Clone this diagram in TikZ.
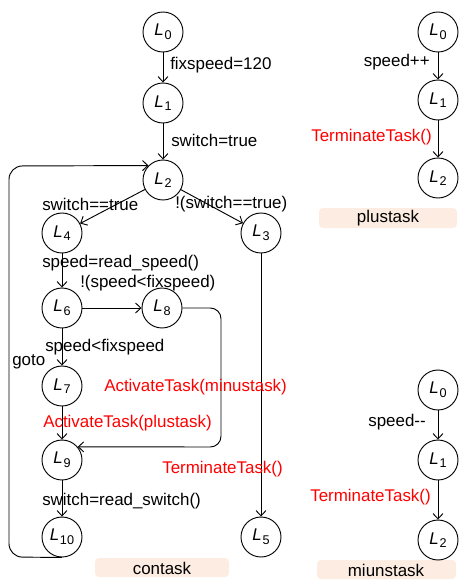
\documentclass[tikz,border=0pt]{standalone}
\usepackage{fontspec}
\setmainfont{Liberation Sans}
\usetikzlibrary{arrows.meta}
\definecolor{boxfill}{RGB}{252,236,225}
\newcommand\statelab[1]{\textit{L}\kern0.5pt\raisebox{-0.4ex}{\fontsize{9.5}{10}\selectfont #1}}
\begin{document}
\begin{tikzpicture}[x=0.75pt,y=-0.75pt,
  state/.style={circle,draw,line width=0.7pt,minimum size=30pt,inner sep=0pt,font=\fontsize{12.7}{14}\selectfont},
  lbl/.style={font=\fontsize{12.7}{14}\selectfont,inner sep=0pt},
  rlbl/.style={lbl,text=red},
  edge/.style={-{Straight Barb[length=4pt,width=7.5pt]},line width=0.7pt},
  taskbox/.style={fill=boxfill,rounded corners=3pt,draw=none}]
\useasboundingbox (0,0) rectangle (458,582);
% boxes
\fill[taskbox] (95,558) rectangle (229,577);
\fill[taskbox] (319,208) rectangle (457,228);
\fill[taskbox] (317,560) rectangle (456,579);
\node[lbl] (tc) at (162,568) {contask};
\node[lbl] (tp) at (388,218) {plustask};
\node[lbl] (tm) at (386,570) {miunstask};
% contask states
\node[state] (L0) at (163,32) {\statelab{0}};
\node[state] (L1) at (163,103) {\statelab{1}};
\node[state] (L2) at (163,180) {\statelab{2}};
\node[state] (L4) at (62,233) {\statelab{4}};
\node[state] (L3) at (261,233) {\statelab{3}};
\node[state] (L6) at (62,308) {\statelab{6}};
\node[state] (L8) at (162,308) {\statelab{8}};
\node[state] (L7) at (62,386) {\statelab{7}};
\node[state] (L9) at (62,460) {\statelab{9}};
\node[state] (L10) at (62,537) {\statelab{10}};
\node[state] (L5) at (261,537) {\statelab{5}};
% plustask
\node[state] (P0) at (438,32) {\statelab{0}};
\node[state] (P1) at (438,100) {\statelab{1}};
\node[state] (P2) at (438,178) {\statelab{2}};
% miunstask
\node[state] (M0) at (438,390) {\statelab{0}};
\node[state] (M1) at (438,460) {\statelab{1}};
\node[state] (M2) at (438,540) {\statelab{2}};
% edges
\draw[edge] (L0) -- (L1);
\draw[edge] (L1) -- (L2);
\draw[edge] (L2) -- (L4);
\draw[edge] (L2) -- (L3);
\draw[edge] (L4) -- (L6);
\draw[edge] (L6) -- (L8);
\draw[edge] (L6) -- (L7);
\draw[edge] (L7) -- (L9);
\draw[edge] (L9) -- (L10);
\draw[edge] (L3) -- (L5);
\draw[edge,rounded corners=8pt] (L8.east) -- (221,308) -- (221,447) -- (L9.40);
\draw[edge,rounded corners=10pt] (L10.south) -- (9,557) -- (9,166) -- (L2.135);
\draw[edge] (P0) -- (P1);
\draw[edge] (P1) -- (P2);
\draw[edge] (M0) -- (M1);
\draw[edge] (M1) -- (M2);
% labels
\node[lbl,anchor=west] (e01) at (170,65) {fixspeed=120};
\node[lbl,anchor=west] (e12) at (171,140) {switch=true};
\node[lbl,anchor=west] (e24) at (42,204) {switch==true};
\node[lbl,anchor=west] (e23) at (175,204) {!(switch==true)};
\node[lbl,anchor=west] (e46) at (42,263) {speed=read\_speed()};
\node[lbl,anchor=west] (e68) at (80,283) {!(speed<fixspeed)};
\node[lbl,anchor=west] (e67) at (45,347) {speed<fixspeed};
\node[lbl,anchor=west] (eg) at (12,362) {goto};
\node[rlbl,anchor=west] (e89) at (104,387) {ActivateTask(minustask)};
\node[rlbl,anchor=west] (e79) at (43,423) {ActivateTask(plustask)};
\node[rlbl,anchor=west] (e35) at (162,469) {TerminateTask()};
\node[lbl,anchor=west] (e910) at (42,501) {switch=read\_switch()};
\node[lbl,anchor=east] (ep01) at (430,62) {speed++};
\node[rlbl,anchor=east] (ep12) at (432,137) {TerminateTask()};
\node[lbl,anchor=east] (em01) at (426,422) {speed{-}{-}};
\node[rlbl,anchor=east] (em12) at (431,497) {TerminateTask()};
\end{tikzpicture}
\end{document}
